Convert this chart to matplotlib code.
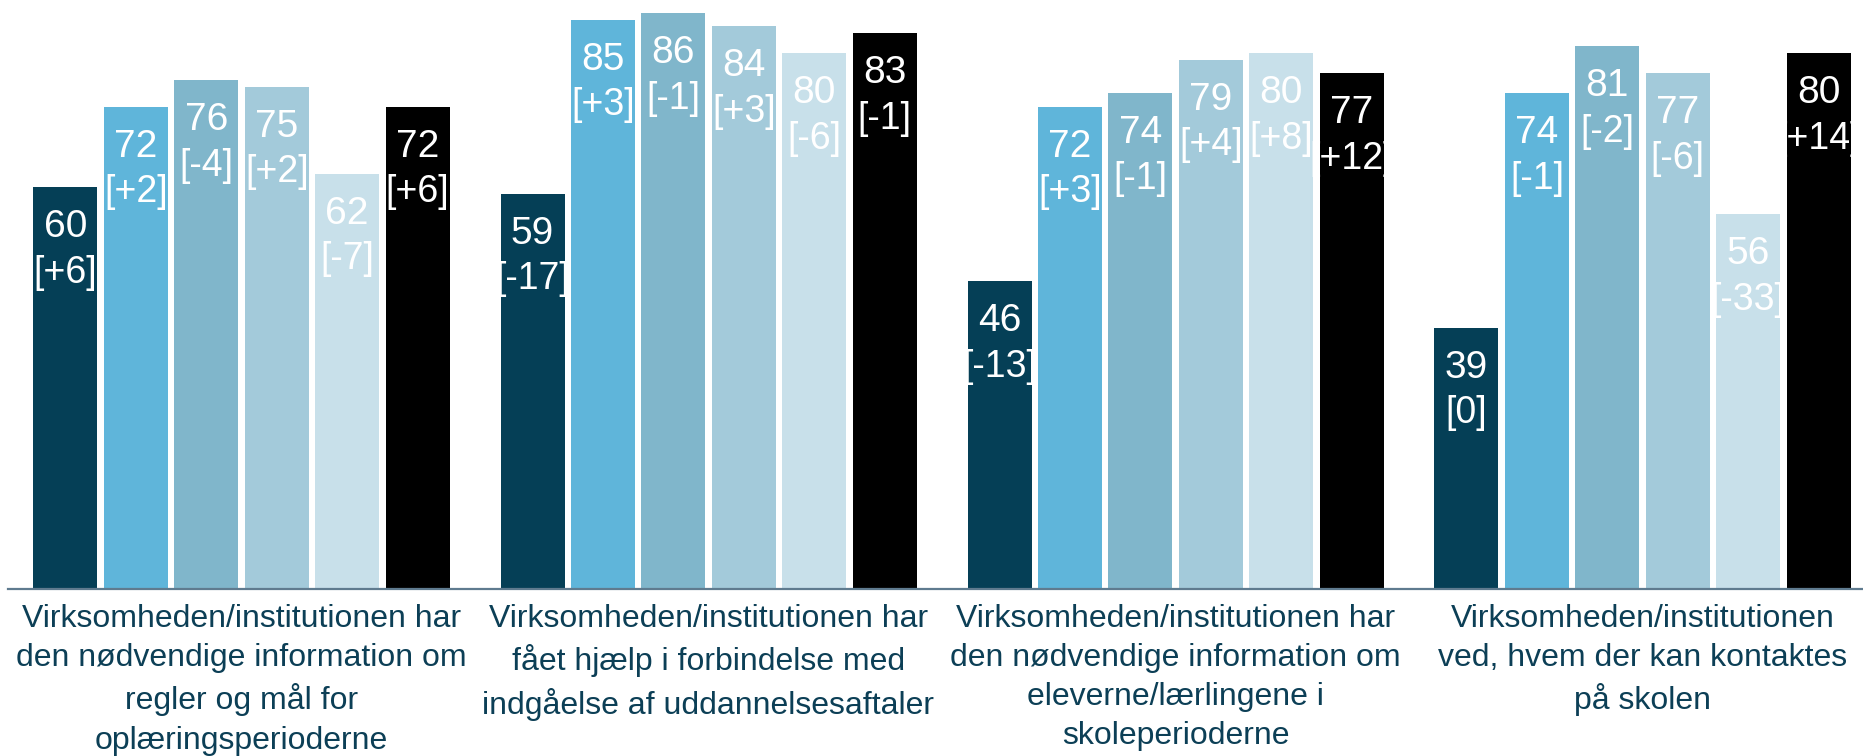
import matplotlib
matplotlib.use('Agg')
import matplotlib.pyplot as plt
import numpy as np

FONT = 'Liberation Sans'
plt.rcParams['font.family'] = [FONT, 'DejaVu Sans']

categories = [
    'Virksomheden/institutionen har\nden nødvendige information om\nregler og mål for\noplæringsperioderne',
    'Virksomheden/institutionen har\nfået hjælp i forbindelse med\nindgåelse af uddannelsesaftaler',
    'Virksomheden/institutionen har\nden nødvendige information om\neleverne/lærlingene i\nskoleperioderne',
    'Virksomheden/institutionen\nved, hvem der kan kontaktes\npå skolen',
]

# one list per series (6 bars per group)
s1 = [60, 59, 46, 39]
s2 = [72, 85, 72, 74]
s3 = [76, 86, 74, 81]
s4 = [75, 84, 79, 77]
s5 = [62, 80, 80, 56]
s6 = [72, 83, 77, 80]

d1 = ['+6', '-17', '-13', '0']
d2 = ['+2', '+3', '+3', '-1']
d3 = ['-4', '-1', '-1', '-2']
d4 = ['+2', '+3', '+4', '-6']
d5 = ['-7', '-6', '+8', '-33']
d6 = ['+6', '-1', '+12', '+14']

series = [s1, s2, s3, s4, s5, s6]
diffs = [d1, d2, d3, d4, d5, d6]
colors = ['#053f56', '#5fb5da', '#80b6cb', '#a3cada', '#c8e0ea', '#000000']

W, H = 1863, 756
fig = plt.figure(figsize=(W / 100, H / 100), dpi=100)
base_y = 589
ax = fig.add_axes([8 / W, (H - base_y) / H, (W - 8) / W, base_y / H])
ax.set_xlim(-0.5, -0.5 + (W - 8) / 467)
ax.set_ylim(0, base_y / 6.7)
ax.axis('off')

x = np.arange(len(categories))
pitch = 70.4 / 467
width = 64 / 467

for i, (vals, dl, col) in enumerate(zip(series, diffs, colors)):
    xs = x + (i - 2.5) * pitch
    bars = ax.bar(xs, vals, width=width, color=col, zorder=2)
    for bar, v, d in zip(bars, vals, dl):
        cx = bar.get_x() + bar.get_width() / 2
        t1 = ax.text(cx, v - 6.0, str(v), ha='center', va='center',
                     fontsize=28, color='white', zorder=3)
        t2 = ax.text(cx, v - 12.8, f'[{d}]', ha='center', va='center',
                     fontsize=27, color='white', zorder=3)
        t1.set_clip_path(bar)
        t2.set_clip_path(bar)

# baseline
ax.axhline(0, color='#5f7b8f', lw=1.6, zorder=4, clip_on=False)

for xi, lab in zip(x, categories):
    ax.text(xi, -2.2, lab, ha='center', va='top', fontsize=23,
            color='#0c3f56', linespacing=1.4, clip_on=False)

fig.savefig('out.png', dpi=100, facecolor='white')
plt.close(fig)
